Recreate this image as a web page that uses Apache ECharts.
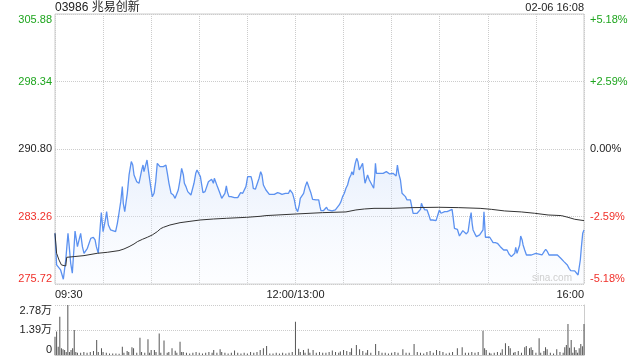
<!DOCTYPE html>
<html><head><meta charset="utf-8">
<script src="https://cdn.jsdelivr.net/npm/echarts@6/dist/echarts.min.js"></script>
<style>html,body{margin:0;padding:0;background:#fff}#c{width:640px;height:360px}</style>
</head><body><div id="c"></div>
<script>
const title = '03986 兆易创新';
const stamp = '02-06 16:08';
const prevClose = 290.80;
const priceMin = 275.72, priceMax = 305.88, priceStep = 7.54;
const volMax = 27800, volStep = 13900;
const timeLabels = {0: '09:30', 150: '12:00/13:00', 330: '16:00'};

// [minute since 09:30 (lunch removed), price]
const pricePoints = [
[0,281.38],[1,277.85],[3.5,277.29],[5.2,276.25],[6.7,278.40],[8.1,281.38],[8.7,280.27],[9.8,278.03],[10.8,276.92],[11.9,279.89],
[12.5,281.64],[13.3,281.57],[14,279.89],[15,280.64],[16,281.38],[17.1,279.89],[18.1,279.15],[20.2,279.71],[22.3,280.82],[23.9,280.94],
[25,280.64],[25.8,279.89],[27,279.15],[27.9,281.38],[28.9,283.69],[30,281.57],[30.6,281.76],[31.6,283.06],[32.2,283.80],[33.3,282.31],
[34.7,281.76],[37.8,281.57],[38.9,282.50],[39.9,283.62],[41,284.92],[42,286.60],[42.6,284.73],[43.5,283.80],[44.1,283.99],[45.1,285.85],
[46.2,287.90],[47.6,289.39],[48.5,289.01],[49.3,287.90],[51,287.15],[52.4,286.97],[53.4,287.15],[54.1,288.46],[54.9,289.01],[55.5,288.27],
[56.6,288.08],[57.4,289.57],[58.2,288.46],[59.7,286.60],[60.7,285.48],[61.8,285.85],[62.8,287.15],[63.8,289.20],[65.5,288.83],
[67.6,288.83],[69.2,289.01],[70.1,288.08],[71.1,286.97],[72.4,285.85],[73.8,285.66],[74.9,285.29],[75.9,285.48],[76.9,286.22],[78,287.34],
[79,288.64],[80.1,287.90],[80.7,286.97],[81.7,286.60],[82.8,286.04],[83.8,285.85],[84.8,285.66],[85.7,285.48],[86.7,286.97],[87.8,288.08],
[88.6,288.46],[89.6,288.27],[90.7,287.71],[91.7,286.60],[92.3,285.92],[93.6,286.04],[94.6,286.22],[95.7,287.15],[96.7,287.34],[97.7,287.41],
[98.8,286.97],[99.4,287.53],[100.2,287.15],[101.3,286.60],[102.9,285.85],[104,285.29],[105,285.29],[106,285.85],[106.9,286.67],[107.5,286.04],
[108.5,285.48],[109.8,285.48],[110.8,285.66],[111.9,285.37],[112.9,285.48],[114,285.37],[115,285.48],[115.8,285.92],[117.1,285.85],[118.1,285.96],
[119.1,286.60],[120.2,287.71],[121.2,287.79],[122.3,287.71],[123.1,287.15],[123.7,286.41],[125,286.30],[126.2,286.52],[127.3,287.53],[128.3,288.27],
[129.1,287.90],[130,286.78],[131.6,286.22],[132.6,286.04],[133.7,285.74],[135.3,285.74],[136.2,285.92],[136.8,285.74],[137.8,285.92],[138.9,285.92],
[140.3,285.85],[141.6,285.74],[142.6,285.92],[143.7,285.85],[145.7,285.85],[146.6,286.22],[147.4,286.30],[148.2,285.85],[149.3,285.11],[150.3,284.17],
[151.4,283.80],[152.4,284.55],[153,285.29],[154.1,285.48],[155.1,285.85],[156.1,286.60],[157.2,287.15],[158,287.08],[158.6,286.41],[159.7,285.85],
[160.7,285.18],[162.8,285.11],[164.5,285.11],[165.3,284.36],[165.9,283.91],[167.4,283.91],[168.6,283.99],[169.4,284.29],[170.3,283.99],[171.5,283.91],
[172.8,283.88],[173.8,283.80],[174.9,283.99],[176.1,284.17],[177.3,284.55],[178.4,284.92],[179.4,285.48],[180.5,285.85],[181.5,286.41],[182.5,286.78],
[183.6,287.53],[184.6,287.90],[185.2,288.27],[186.1,287.90],[186.7,288.64],[187.3,289.20],[188.2,289.76],[189,289.39],[189.8,288.46],[190.9,288.83],
[191.9,289.20],[192.5,288.27],[193.4,286.97],[194,287.15],[195,287.90],[196.1,287.34],[197.1,287.15],[198.8,286.41],[199.5,287.90],[199.9,289.20],
[200.5,288.08],[201.5,287.90],[202.6,288.08],[203.6,287.90],[204.7,288.08],[205.7,288.27],[206.7,288.27],[207.8,288.08],[208.8,288.01],[209.9,287.97],
[210.9,288.08],[211.9,287.90],[212.8,287.79],[213.6,289.01],[214.4,288.08],[215.5,287.34],[216.5,285.85],[217.6,285.66],[218.6,285.48],[219.6,285.11],
[220.7,284.92],[221.7,285.11],[222.8,285.11],[223.4,283.62],[224.4,283.43],[225.9,283.62],[226.9,283.80],[228,284.06],[228.6,284.73],[229.4,284.36],
[230,284.55],[230.7,283.99],[232.1,283.99],[233.2,283.43],[234.2,282.87],[235.6,282.87],[236.7,282.69],[237.7,282.80],[238.8,283.43],[239.8,283.99],
[240.8,283.62],[241.9,283.73],[243.1,283.80],[244.6,283.80],[246,283.91],[247.7,284.06],[248.3,283.24],[249.2,281.94],[250.2,281.76],[251,281.83],
[252.3,281.08],[253.3,281.20],[254.4,281.68],[255.4,281.46],[256.6,281.31],[257.7,281.57],[258.7,282.87],[259.6,283.69],[260.2,282.50],[260.8,281.76],
[261.8,281.38],[262.9,281.01],[263.9,280.93],[264.9,281.20],[266,281.38],[267,281.76],[267.6,283.80],[268.5,280.94],[269.7,280.94],[271.2,280.94],
[272.2,280.82],[273.3,280.34],[274.7,280.34],[276,280.27],[277,280.34],[277.8,279.89],[278.9,279.82],[279.9,279.52],[282,279.52],[283.2,279.07],
[284.7,278.78],[285.7,278.70],[286.8,279.15],[287.4,279.82],[288.2,279.15],[289.3,279.15],[289.9,280.08],[290.5,281.08],[291.4,280.64],[292,280.08],
[293,279.52],[294.1,278.96],[297.2,278.96],[299.9,279.15],[300.9,278.96],[303.8,278.96],[305.1,279.33],[306.1,279.60],[307.2,279.33],[308.2,278.96],
[313.4,278.96],[314.4,278.78],[315.5,278.59],[316.5,278.40],[317.5,278.22],[318.6,278.11],[319.6,277.85],[320.7,277.47],[321.7,277.21],[324.2,277.18],
[325.2,276.99],[326.3,276.73],[326.9,276.92],[327.7,278.40],[328.4,279.89],[329.2,281.38],[330,281.76]
];

// [minute, average price]
const avgPoints = [
[0,281.38],[1,279.15],[2.5,278.40],[4,277.85],[6.7,277.73],[7.3,278.70],[11.9,278.78],[18.1,278.89],[26.4,279.15],[32.6,279.26],
[39.9,279.45],[43,279.63],[46.2,279.89],[49.3,280.19],[51.4,280.45],[54.5,280.71],[57.6,280.94],[60.7,281.20],[63.8,281.57],[65.9,281.90],
[67.6,282.05],[71.7,282.31],[78,282.57],[84.2,282.72],[90.5,282.87],[98.8,282.98],[107.1,283.06],[119.6,283.17],[127.9,283.28],[131.6,283.36],
[150.3,283.54],[166.9,283.69],[181.5,283.77],[187.7,283.99],[193,284.10],[199,284.17],[210.3,284.17],[222.8,284.25],[239.4,284.29],[251.9,284.25],
[265.2,284.17],[272.2,284.06],[280.5,283.88],[290.9,283.77],[299.2,283.62],[307.6,283.43],[315.9,283.36],[320,283.17],[324.2,282.95],[330,282.80]
];

// [minute, volume (shares)]
const volumePoints = [
[0,10200],[1,13000],[2,4600],[3,21300],[4,3700],[5,3200],[6,2800],[7,1700],[8,27800],[9,1700],[10,2800],[11,3700],[12,13900],[13,1700],[14,1300],
[16,1300],[18,1700],[20,1300],[22,1700],[24,2200],[26,8300],[27,1700],[29,3700],[30,1700],[32,1300],[34,900],[36,900],[38,900],[40,700],[42,4600],
[43,1300],[45,2200],[46,1700],[48,4300],[49,3700],[51,1300],[53,9600],[54,1700],[56,1300],[58,8700],[59,1300],[60,2800],[62,2800],[63,1700],[65,12000],
[66,1300],[68,8000],[70,1300],[71,1700],[73,3700],[75,2400],[76,1300],[78,7400],[79,1700],[80,1700],[82,1300],[84,900],[86,1300],[88,1700],[90,1300],
[92,900],[94,1300],[96,1700],[98,1300],[99,2800],[101,1300],[103,3200],[104,1700],[106,1300],[108,900],[110,1300],[112,2500],[114,1300],[116,900],[118,1300],
[120,900],[122,1700],[124,1300],[126,1700],[128,2800],[130,3700],[132,5000],[134,900],[136,900],[138,1300],[140,900],[142,1300],[144,900],[146,1300],[148,1700],
[150,18500],[152,3500],[153,1700],[155,2800],[156,1300],[158,3500],[159,1300],[161,2800],[163,1300],[165,1700],[167,1300],[169,1300],[171,1700],[173,2500],
[175,1700],[177,1300],[178,2000],[180,2800],[182,2200],[184,1700],[185,3700],[188,5500],[190,3200],[192,2200],[194,1300],[195,2800],[197,1300],[200,6100],
[202,2200],[204,1300],[206,1300],[208,900],[210,1300],[212,1700],[214,1300],[217,3200],[219,1300],[221,1300],[224,6100],[226,1700],[228,1300],[230,900],
[232,1700],[234,2200],[236,1300],[238,2800],[240,2200],[242,1700],[244,900],[246,1300],[248,1700],[251,3700],[254,4300],[256,1300],[258,1300],[260,1700],
[262,1300],[264,1700],[267,13500],[268,3700],[269,2800],[271,1300],[272,900],[274,1300],[276,1700],[278,1300],[279,3200],[281,6500],[283,5000],[284,3700],
[286,1300],[287,1700],[289,2200],[291,1300],[293,4300],[294,5000],[296,3700],[297,4300],[298,2800],[300,1300],[302,9300],[303,1300],[305,2200],[306,4300],
[307,3200],[309,1300],[311,900],[313,3200],[315,1700],[317,1300],[318,4300],[319,5500],[320,17200],[321,4000],[322,8300],[323,1300],[324,4300],[325,2800],
[326,1300],[327,3700],[328,6100],[329,4800],[330,17200]
];

const FONT = '"Liberation Sans", Arial, "Noto Sans CJK SC", sans-serif';
const GREEN = '#1ea51e', RED = '#f0302a', DARK = '#222';
const priceColor = v => Math.abs(v - prevClose) < 0.005 ? DARK : (v > prevClose ? GREEN : RED);
const pct = v => {
  const p = (v - prevClose) / prevClose * 100;
  if (Math.abs(p) < 0.005) return '0.00%';
  const t = (Math.floor(Math.abs(p) * 100 + 1e-6) / 100).toFixed(2);
  return (p > 0 ? '+' : '-') + t + '%';
};

const chart = echarts.init(document.getElementById('c'), null, {renderer: 'canvas'});
chart.setOption({
  animation: false,
  backgroundColor: '#fff',
  textStyle: {fontFamily: FONT},
  grid: [
    {left: 55, right: 56, top: 14, height: 270, show: true, borderColor: '#ccc', borderWidth: 1, backgroundColor: 'transparent'},
    {left: 55, right: 56, top: 305, height: 50}
  ],
  xAxis: [
    {gridIndex: 0, type: 'value', min: 0, max: 330, interval: 30,
     axisLine: {show: false}, axisTick: {show: false},
     splitLine: {show: true, lineStyle: {color: '#ccc', type: 'dotted'}},
     axisLabel: {customValues: [0, 150, 330], formatter: v => timeLabels[v] || '',
       alignMinLabel: 'left', alignMaxLabel: 'right', fontSize: 11, color: DARK, margin: 5, fontFamily: FONT}},
    {gridIndex: 1, type: 'value', min: 0, max: 330, interval: 30,
     axisLine: {show: true, lineStyle: {color: '#ccc'}}, axisTick: {show: false},
     splitLine: {show: false}, axisLabel: {show: false}}
  ],
  yAxis: [
    {gridIndex: 0, type: 'value', min: priceMin, max: priceMax, interval: priceStep, position: 'left',
     axisLine: {show: false}, axisTick: {show: false},
     splitLine: {show: true, lineStyle: {color: '#ccc', type: 'dotted'}},
     axisLabel: {formatter: v => v.toFixed(2), color: v => priceColor(v), fontSize: 11, margin: 3, fontFamily: FONT,
       verticalAlignMinLabel: 'bottom', verticalAlignMaxLabel: 'top'}},
    {gridIndex: 0, type: 'value', min: priceMin, max: priceMax, interval: priceStep, position: 'right',
     axisLine: {show: false}, axisTick: {show: false}, splitLine: {show: false},
     axisLabel: {formatter: v => pct(v), color: v => priceColor(v), fontSize: 11, margin: 6, fontFamily: FONT,
       verticalAlignMinLabel: 'bottom', verticalAlignMaxLabel: 'top'}},
    {gridIndex: 1, type: 'value', min: 0, max: volMax, interval: volStep, position: 'left',
     axisLine: {show: false}, axisTick: {show: false},
     splitLine: {show: true, lineStyle: {color: '#ccc', type: 'dotted'}},
     axisLabel: {formatter: v => v === 0 ? '0' : (v / 10000).toFixed(2) + '万', color: DARK, fontSize: 11, margin: 3, fontFamily: FONT,
       verticalAlignMinLabel: 'bottom', verticalAlignMaxLabel: 'top'}},
    {gridIndex: 1, type: 'value', min: 0, max: volMax, position: 'right',
     axisLine: {show: true, lineStyle: {color: '#ccc'}}, axisTick: {show: false}, splitLine: {show: false}, axisLabel: {show: false}}
  ],
  series: [
    {type: 'line', xAxisIndex: 0, yAxisIndex: 0, data: pricePoints, symbol: 'none', z: 3,
     lineStyle: {color: '#5b91f0', width: 1.3},
     areaStyle: {color: new echarts.graphic.LinearGradient(0, 0, 0, 1, [
       {offset: 0, color: 'rgba(196,216,248,0.55)'}, {offset: 1, color: 'rgba(240,245,255,0.25)'}])}},
    {type: 'line', xAxisIndex: 0, yAxisIndex: 0, data: avgPoints, symbol: 'none', z: 4,
     lineStyle: {color: '#333', width: 1}},
    {type: 'bar', xAxisIndex: 1, yAxisIndex: 2, data: volumePoints, barWidth: 1,
     itemStyle: {color: '#555'}}
  ],
  graphic: [
    {type: 'text', left: 55, top: 2, style: {text: title, font: '12px ' + FONT, fill: '#222'}},
    {type: 'text', right: 56, top: 2, style: {text: stamp, font: '11px ' + FONT, fill: '#222'}},
    {type: 'text', left: 532, top: 273, z: 10, style: {text: 'sina.com', font: '10px ' + FONT, fill: '#cfcfcf'}}
  ]
});
</script></body></html>
